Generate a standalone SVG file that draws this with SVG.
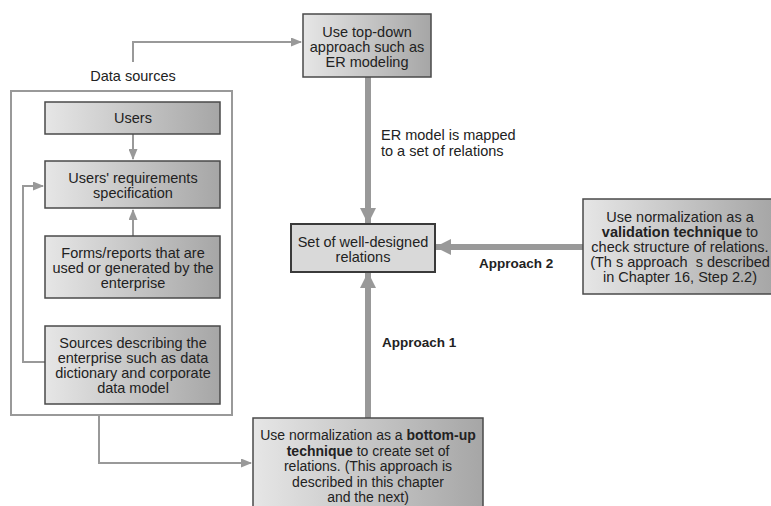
<svg xmlns="http://www.w3.org/2000/svg" width="771" height="506" viewBox="0 0 771 506">
<defs>
<linearGradient id="g" x1="0" y1="0" x2="1" y2="0">
<stop offset="0" stop-color="#e6e6e6"/>
<stop offset="1" stop-color="#a6a6a6"/>
</linearGradient>
<marker id="ah" markerWidth="11" markerHeight="9" refX="10" refY="4.5" orient="auto" markerUnits="userSpaceOnUse">
<path d="M0,0 L11,4.5 L0,9 Z" fill="#999"/>
</marker>
<marker id="ahb" markerWidth="16" markerHeight="16" refX="15" refY="8" orient="auto" markerUnits="userSpaceOnUse">
<path d="M0,0 L16,8 L0,16 Z" fill="#999"/>
</marker>
</defs>
<style>
.box{fill:url(#g);stroke:#4a4a4a;stroke-width:1.5}
.plain{fill:#d9d9d9;stroke:#3a3a3a;stroke-width:2}
.t{font-family:"Liberation Sans",Arial,sans-serif;font-size:14.5px;fill:#222;text-anchor:middle}
.l{font-family:"Liberation Sans",Arial,sans-serif;font-size:14.5px;fill:#222}
.s{font-size:14px}
.b{font-weight:bold}
.ap{font-size:13.5px;font-weight:bold}
.thin{fill:none;stroke:#999;stroke-width:2}
.thick{fill:none;stroke:#999;stroke-width:6}
</style>
<rect x="11" y="91" width="221" height="324" fill="none" stroke="#999" stroke-width="2"/>
<text class="t" x="133" y="81">Data sources</text>
<g id="connectors">
<path class="thin" d="M133,62 V42 H301" marker-end="url(#ah)"/>
<path class="thin" d="M133,134 V159" marker-end="url(#ah)"/>
<path class="thin" d="M133,236 V210" marker-end="url(#ah)"/>
<path class="thin" d="M45,362 H23 V186 H43" marker-end="url(#ah)"/>
<path class="thin" d="M99,415 V463 H251" marker-end="url(#ah)"/>
<path class="thick" d="M368,77 V223" marker-end="url(#ahb)"/>
<path class="thick" d="M368,418 V273" marker-end="url(#ahb)"/>
<path class="thick" d="M583,247 H436" marker-end="url(#ahb)"/>
<text class="l" x="381" y="140">ER model is mapped</text>
<text class="l" x="381" y="156">to a set of relations</text>
<text class="l ap" x="382" y="347">Approach 1</text>
<text class="l ap" x="479" y="268">Approach 2</text>
</g>
<g id="users">
<rect class="box" x="45" y="102" width="175" height="32"/>
<text class="t" x="133" y="123">Users</text>
</g>
<g id="requirements">
<rect class="box" x="45" y="161" width="175" height="47"/>
<text class="t" x="133" y="183">Users' requirements</text>
<text class="t" x="133" y="198">specification</text>
</g>
<g id="forms">
<rect class="box" x="45" y="236" width="175" height="62"/>
<text class="t" x="133" y="258">Forms/reports that are</text>
<text class="t" x="133" y="273">used or generated by the</text>
<text class="t" x="133" y="288">enterprise</text>
</g>
<g id="sources">
<rect class="box" x="45" y="326" width="175" height="78"/>
<text class="t" x="133" y="348">Sources describing the</text>
<text class="t" x="133" y="363">enterprise such as data</text>
<text class="t" x="133" y="378">dictionary and corporate</text>
<text class="t" x="133" y="393">data model</text>
</g>
<g id="topdown">
<rect class="box" x="303" y="14" width="128" height="63"/>
<text class="t" x="367" y="37">Use top-down</text>
<text class="t" x="367" y="52">approach such as</text>
<text class="t" x="367" y="67">ER modeling</text>
</g>
<g id="relations">
<rect class="plain" x="291" y="224" width="144" height="48"/>
<text class="t" x="363" y="247">Set of well-designed</text>
<text class="t" x="363" y="262">relations</text>
</g>
<g id="validation">
<rect class="box" x="583" y="199" width="190" height="95"/>
<text class="t" x="680" y="222">Use normalization as a</text>
<text class="t" x="680" y="237"><tspan class="b">validation technique</tspan> to</text>
<text class="t" x="680" y="252">check structure of relations.</text>
<text class="t" x="680" y="267">(Th s approach &#160;s described</text>
<text class="t" x="680" y="282">in Chapter 16, Step 2.2)</text>
</g>
<g id="bottomup">
<rect class="box" x="253" y="418" width="230" height="100"/>
<text class="t s" x="368" y="440">Use normalization as a <tspan class="b">bottom-up</tspan></text>
<text class="t s" x="368" y="456"><tspan class="b">technique</tspan> to create set of</text>
<text class="t s" x="368" y="471">relations. (This approach is</text>
<text class="t s" x="368" y="487">described in this chapter</text>
<text class="t s" x="368" y="502">and the next)</text>
</g>
</svg>
